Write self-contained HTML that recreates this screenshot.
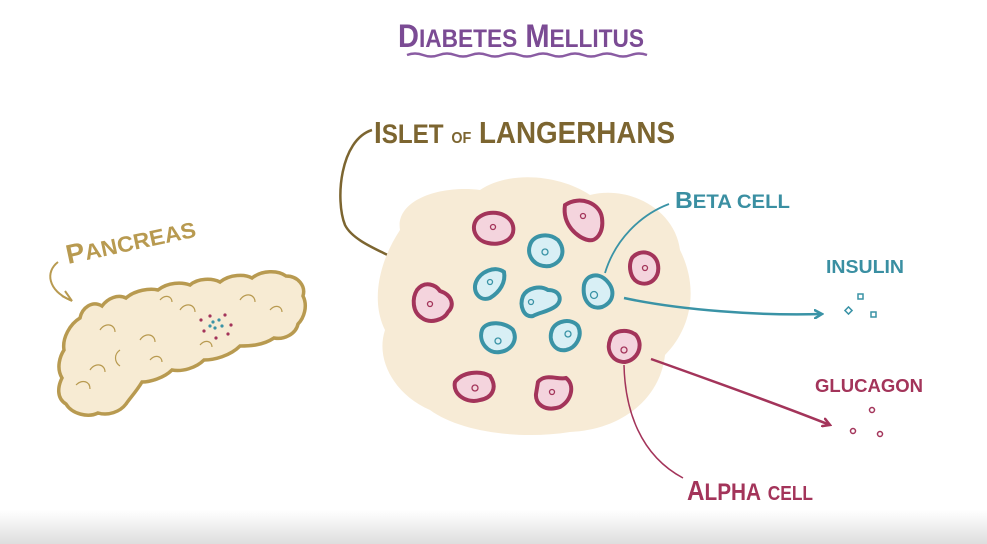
<!DOCTYPE html>
<html><head><meta charset="utf-8"><style>
html,body{margin:0;padding:0;background:#fff;}
svg{display:block}
text{font-family:"Liberation Sans",sans-serif;font-weight:bold;}
</style></head><body>
<svg width="987" height="544" viewBox="0 0 987 544" xmlns="http://www.w3.org/2000/svg">
<defs>
<linearGradient id="bg" x1="0" y1="0" x2="0" y2="1">
<stop offset="0" stop-color="#fff"/><stop offset="1" stop-color="#dedede"/>
</linearGradient>
<marker id="ab" markerWidth="10" markerHeight="10" refX="8" refY="5" orient="auto" markerUnits="userSpaceOnUse"><path d="M1,1 L8,5 L1,9" fill="none" stroke="#3a93a6" stroke-width="2.5" stroke-linecap="round"/></marker>
<marker id="ap" markerWidth="10" markerHeight="10" refX="8" refY="5" orient="auto" markerUnits="userSpaceOnUse"><path d="M1,1 L8,5 L1,9" fill="none" stroke="#a3345a" stroke-width="2.5" stroke-linecap="round"/></marker>
</defs>
<rect x="0" y="510" width="987" height="34" fill="url(#bg)"/>

<text x="398" y="47" fill="#7b4b94" font-size="32" textLength="246" lengthAdjust="spacingAndGlyphs">D<tspan font-size="25">IABETES</tspan> M<tspan font-size="25">ELLITUS</tspan></text>
<path d="M407,55 q8,-3 16,0 t16,0 t16,0 t16,0 t16,0 t16,0 t16,0 t16,0 t16,0 t16,0 t16,0 t16,0 t16,0 t16,0 t16,0" fill="none" stroke="#8a5ca3" stroke-width="2.5"/>

<text x="374" y="143" fill="#7c6530" font-size="31" textLength="301" lengthAdjust="spacingAndGlyphs">I<tspan font-size="27">SLET</tspan> <tspan font-size="16">OF</tspan> LANGERHANS</text>
<path d="M372,130 C340,140 335,200 345,225 C355,245 395,255 404,265" fill="none" stroke="#7c6530" stroke-width="2.5"/>

<path d="M400,230 C395,200 440,185 480,190 C510,170 560,175 590,195 C630,185 675,210 680,250 C700,290 690,330 665,355 C660,400 620,430 570,432 C520,440 460,432 430,410 C395,395 375,360 385,330 C370,300 380,260 400,230 Z" fill="#f7ebd6"/>

<g stroke-width="4">
<g fill="#f4d4dd" stroke="#a3345a">
<path d="M478,218 C490,208 510,213 513,226 C516,240 500,246 488,243 C474,240 470,226 478,218Z"/>
<path d="M565,205 C580,195 600,203 602,218 C604,233 596,242 588,240 C578,238 562,225 565,205Z"/>
<path d="M632,258 C640,248 656,252 658,265 C660,278 650,286 640,283 C630,280 628,266 632,258Z"/>
<path d="M417,290 C425,280 436,285 440,291 C452,295 455,305 448,312 C444,320 430,324 422,318 C412,312 412,298 417,290Z"/>
<path d="M455,382 C462,372 480,370 490,376 C498,388 492,398 480,400 C468,404 452,395 455,382Z"/>
<path d="M538,382 C545,373 558,380 566,378 C575,385 572,400 560,407 C545,412 535,404 536,394Z"/>
<path d="M610,340 C612,330 628,328 636,335 C644,345 638,360 625,362 C612,362 606,350 610,340Z"/>
</g>
<g fill="#d8eff5" stroke="#3a93a6">
<path d="M530,245 C533,235 548,232 558,240 C566,250 563,262 550,266 C535,268 526,256 530,245Z"/>
<path d="M476,282 C480,272 495,265 504,272 C506,282 500,292 490,298 C480,302 472,292 476,282Z"/>
<path d="M523,296 C527,288 540,285 548,290 C560,290 563,300 556,306 C548,312 540,312 533,316 C524,318 519,306 523,296Z"/>
<path d="M584,285 C586,275 598,272 606,280 C616,290 614,302 602,307 C590,310 582,300 584,285Z"/>
<path d="M482,330 C486,320 506,322 513,330 C518,340 512,350 500,352 C488,354 478,342 482,330Z"/>
<path d="M552,330 C556,320 572,318 578,326 C583,336 576,348 566,350 C554,352 548,340 552,330Z"/>
</g>
</g>
<g fill="none" stroke-width="1.3">
<g stroke="#a3345a"><circle cx="493" cy="227" r="2.5"/><circle cx="583" cy="216" r="2.5"/><circle cx="645" cy="268" r="2.5"/><circle cx="430" cy="304" r="2.5"/><circle cx="475" cy="388" r="3"/><circle cx="552" cy="392" r="2.5"/><circle cx="624" cy="350" r="3"/></g>
<g stroke="#3a93a6"><circle cx="545" cy="252" r="3"/><circle cx="490" cy="282" r="2.5"/><circle cx="531" cy="302" r="2.5"/><circle cx="594" cy="295" r="3.5"/><circle cx="498" cy="341" r="3"/><circle cx="568" cy="334" r="3"/></g>
</g>

<text x="675" y="208" fill="#3a8fa2" font-size="23" textLength="115" lengthAdjust="spacingAndGlyphs">B<tspan font-size="19">ETA CELL</tspan></text>
<path d="M669,204 C640,215 615,240 605,273" fill="none" stroke="#3a93a6" stroke-width="1.8"/>
<path d="M624,298 C680,310 760,316 822,314" fill="none" stroke="#3a93a6" stroke-width="2.5" marker-end="url(#ab)"/>
<text x="826" y="273" fill="#3a8fa2" font-size="18" textLength="78" lengthAdjust="spacingAndGlyphs">INSULIN</text>
<g fill="none" stroke="#3a93a6" stroke-width="1.5"><rect x="858" y="294" width="5" height="5"/><rect x="871" y="312" width="5" height="5"/><rect x="846" y="308" width="5" height="5" transform="rotate(45 848.5 310.5)"/></g>

<path d="M651,359 C710,380 780,405 830,425" fill="none" stroke="#a3345a" stroke-width="2.5" marker-end="url(#ap)"/>
<text x="815" y="392" fill="#a3345a" font-size="18" textLength="108" lengthAdjust="spacingAndGlyphs">GLUCAGON</text>
<g fill="none" stroke="#a3345a" stroke-width="1.5"><circle cx="872" cy="410" r="2.5"/><circle cx="853" cy="431" r="2.5"/><circle cx="880" cy="434" r="2.5"/></g>
<path d="M624,365 C625,410 640,455 683,478" fill="none" stroke="#a3345a" stroke-width="1.5"/>
<text x="687" y="500" fill="#a3345a" font-size="28" textLength="126" lengthAdjust="spacingAndGlyphs">A<tspan font-size="24">LPHA</tspan> <tspan font-size="20">CELL</tspan></text>

<text x="68" y="264" fill="#b89a50" font-size="27" textLength="132" lengthAdjust="spacingAndGlyphs" transform="rotate(-12 68 264)">P<tspan font-size="22">ANCREAS</tspan></text>
<path d="M58,262 C45,272 48,290 70,300" fill="none" stroke="#b89a50" stroke-width="2"/>
<path d="M62,296 L72,301 L65,291" fill="none" stroke="#b89a50" stroke-width="2"/>
<path d="M80,318 C82,308 92,300 102,306 C108,298 118,294 126,298 C135,290 150,288 158,290 C168,282 182,282 190,285 C198,278 212,278 220,282 C230,274 245,274 252,278 C262,270 278,270 286,276 C298,276 306,286 303,296 C308,306 304,318 298,324 C296,334 284,340 274,338 C262,346 248,346 240,346 C230,356 214,360 204,360 C196,368 182,372 172,370 C164,378 150,382 142,382 C136,392 130,398 126,404 C120,412 108,416 98,413 C88,418 72,414 66,404 C56,398 58,386 62,378 C56,368 60,356 64,350 C62,338 70,324 80,318 Z" fill="#f7ebd3" stroke="#b89a50" stroke-width="3.5"/>
<g fill="none" stroke="#b89a50" stroke-width="1.2">
<path d="M100,330 c5,-8 15,-6 15,2"/><path d="M140,340 c5,-8 15,-6 15,2"/><path d="M180,310 c5,-8 15,-6 15,2"/><path d="M240,300 c5,-8 15,-6 15,2"/><path d="M90,370 c5,-8 15,-6 15,2"/><path d="M160,300 c5,-6 12,-4 12,2"/><path d="M270,310 c5,-6 12,-4 12,2"/><path d="M200,345 c5,-6 12,-4 12,2"/><path d="M120,350 c-6,4 -6,12 0,16"/><path d="M76,385 c6,-6 14,-4 14,4"/><path d="M150,360 c5,-6 12,-4 12,2"/>
</g>
<g fill="#a3345a"><circle cx="201" cy="320" r="1.6"/><circle cx="210" cy="316" r="1.6"/><circle cx="225" cy="315" r="1.6"/><circle cx="231" cy="325" r="1.6"/><circle cx="228" cy="334" r="1.6"/><circle cx="204" cy="331" r="1.6"/><circle cx="216" cy="338" r="1.6"/></g>
<g fill="#3a93a6"><circle cx="213" cy="322" r="1.6"/><circle cx="219" cy="320" r="1.6"/><circle cx="222" cy="326" r="1.6"/><circle cx="215" cy="328" r="1.6"/><circle cx="210" cy="326" r="1.6"/></g>
</svg>
</body></html>
